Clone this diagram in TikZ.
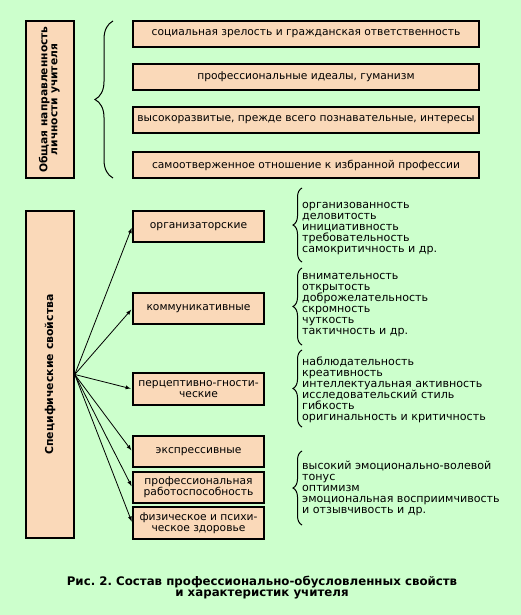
\documentclass[tikz,border=0pt]{standalone}
\usepackage{fontspec}
\setmainfont{DejaVu Sans}
\usepackage{graphicx}
\usetikzlibrary{arrows, decorations.pathreplacing}
\definecolor{bggreen}{HTML}{CCFFCC}
\definecolor{peach}{HTML}{FAD9B9}
\frenchspacing

\begin{document}
\begin{tikzpicture}[x=1pt, y=-1pt, every node/.style={font=\fontsize{10.7}{11}\selectfont, inner sep=0pt},
  box/.style={rectangle, draw=black, line width=1.5pt, fill=peach, align=center},
  topbox/.style={box, minimum width=346pt, minimum height=26pt},
  propbox/.style={box, minimum width=131pt, minimum height=31pt},
  list/.style={anchor=west, align=left, font=\fontsize{11.1}{11}\selectfont},
  brc/.style={decorate, decoration={brace, amplitude=9pt}, line width=1pt},
  arr/.style={-latex, line width=0.8pt, shorten >=1.5pt}]
\fill[bggreen] (0,0) rectangle (521,615);
\useasboundingbox (0,0) rectangle (521,615);

\node[box, minimum width=48pt, minimum height=157pt] (gen) at (50,99.5) {\rotatebox{90}{\bfseries\fontsize{10.7}{12}\selectfont\begin{tabular}{@{}c@{}}Общая направленность\\[-2pt]личности учителя\end{tabular}}};
\node[topbox] (t1) at (306,34) {социальная зрелость и гражданская ответственность};
\node[topbox] (t2) at (306,77) {профессиональные идеалы, гуманизм};
\node[topbox] (t3) at (306,120) {высокоразвитые, прежде всего познавательные, интересы};
\node[topbox] (t4) at (306,165) {самоотверженное отношение к избранной профессии};
\draw[brc, decoration={amplitude=18pt}] (113,178) -- (113,21);

\node[box, minimum width=48pt, minimum height=327pt] (spec) at (50,374.5) {\rotatebox{90}{\bfseries\fontsize{10.9}{12}\selectfont Специфические свойства}};
\node[propbox] (org) at (198.5,226.5) {организаторские};
\node[propbox] (comm) at (198.5,308.5) {коммуникативные};
\node[propbox, minimum height=32pt] (perc) at (198.5,389) {перцептивно-гности-\\ческие};
\node[propbox] (expr) at (198.5,451.5) {экспрессивные};
\node[propbox] (work) at (198.5,487.5) {профессиональная\\работоспособность};
\node[propbox, minimum height=32pt] (heal) at (198.5,523) {физическое и психи-\\ческое здоровье};

\draw[arr] (spec.east) -- (org.west);
\draw[arr] (spec.east) -- (comm.west);
\draw[arr] (spec.east) -- (perc.west);
\draw[arr] (spec.east) -- (expr.west);
\draw[arr] (spec.east) -- (work.west);
\draw[arr] (spec.east) -- (heal.west);

% lists of qualities
\node[list] (l1) at (302,229) {организованность\\деловитость\\инициативность\\требовательность\\самокритичность и др.};
\node[list] (l2) at (302,305.5) {внимательность\\открытость\\доброжелательность\\скромность\\чуткость\\тактичность и др.};
\node[list] (l3) at (302,389.5) {наблюдательность\\креативность\\интеллектуальная активность\\исследовательский стиль\\гибкость\\оригинальность и критичность};
\node[list] (l4) at (302,488) {высокий эмоционально-волевой\\тонус\\оптимизм\\эмоциональная восприимчивость\\и отзывчивость и др.};
\draw[brc] (302,262) -- (302,188);
\draw[brc] (302,345) -- (302,268);
\draw[brc] (302,427) -- (302,350);
\draw[brc] (302,525) -- (302,451);

\node[font=\fontsize{11.8}{11}\selectfont\bfseries, align=center] (cap) at (262,588) {Рис. 2. Состав профессионально-обусловленных свойств\\и характеристик учителя};
\end{tikzpicture}
\end{document}
